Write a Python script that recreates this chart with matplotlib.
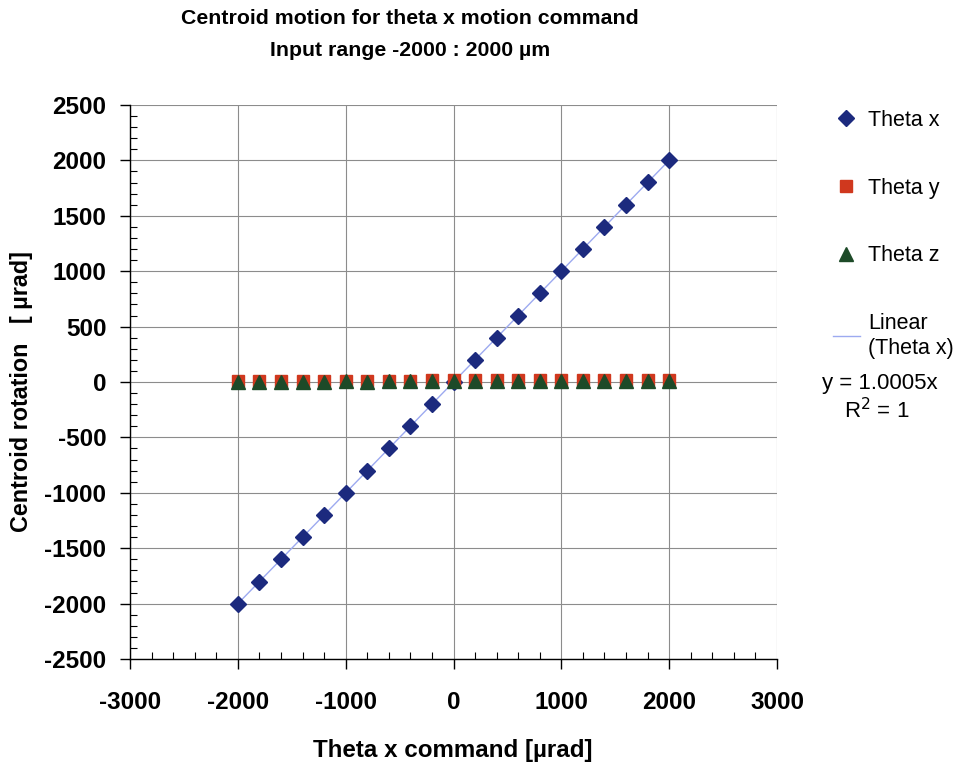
import numpy as np
import matplotlib
matplotlib.use("Agg")
import matplotlib.pyplot as plt
from matplotlib.ticker import MultipleLocator

plt.rcParams['font.family'] = ['Liberation Sans', 'DejaVu Sans']
plt.rcParams['axes.unicode_minus'] = False

# Commanded theta x (µrad)
command = [-2000, -1800, -1600, -1400, -1200, -1000, -800, -600, -400, -200,
           0, 200, 400, 600, 800, 1000, 1200, 1400, 1600, 1800, 2000]
# Measured centroid rotation (µrad)
theta_x = [-2001, -1801, -1601, -1401, -1201, -1000, -800, -600, -400, -200,
           0, 200, 400, 600, 800, 1000, 1201, 1401, 1601, 1801, 2001]
theta_y = [12, 12, 12, 12, 12, 13, 13, 13, 13, 14,
           14, 14, 15, 15, 16, 16, 16, 17, 17, 18, 18]
theta_z = [4, 4, 4, 4, 4, 5, 4, 5, 5, 5,
           6, 6, 6, 6, 6, 7, 7, 7, 8, 8, 8]

cmd = np.array(command, float)
tx = np.array(theta_x, float)
slope = np.sum(cmd * tx) / np.sum(cmd * cmd)

fig = plt.figure(figsize=(9.59, 7.70), dpi=100)
ax = fig.add_axes([130 / 959, 1 - 659 / 770, (777 - 130) / 959, (659 - 105) / 770])

ax.plot(cmd, slope * cmd, color='#9DAAF0', lw=1.0, zorder=2, label='Linear\n(Theta x)')
ax.plot(command, theta_x, 'D', color='#1C2A7E', ms=8.5, zorder=3, label='Theta x')
ax.plot(command, theta_y, 's', color='#D0381E', ms=8.5, zorder=4, label='Theta y')
ax.plot(command, theta_z, '^', color='#1D4A28', ms=9.5, zorder=5, label='Theta z')

ax.set_xlim(-3000, 3000)
ax.set_ylim(-2500, 2500)
ax.xaxis.set_major_locator(MultipleLocator(1000))
ax.xaxis.set_minor_locator(MultipleLocator(200))
ax.yaxis.set_major_locator(MultipleLocator(500))
ax.yaxis.set_minor_locator(MultipleLocator(100))
ax.grid(True, which='major', color='#8C8C8C', lw=0.8)
ax.set_axisbelow(True)

for s in ('top', 'right'):
    ax.spines[s].set_visible(False)
for s in ('left', 'bottom'):
    ax.spines[s].set_color('black')
    ax.spines[s].set_linewidth(1.0)

ax.tick_params(which='major', direction='out', length=7, width=1, labelsize=17.5)
ax.tick_params(which='minor', direction='in', length=5, width=0.8)
ax.tick_params(axis='y', pad=10)
ax.tick_params(axis='x', pad=16)
for lbl in ax.get_xticklabels() + ax.get_yticklabels():
    lbl.set_fontweight('bold')

fig.text(453 / 959, 1 - 750 / 770, 'Theta x command [\u00b5rad]', fontsize=17.4,
         fontweight='bold', ha='center', va='center')
fig.text(22 / 959, 1 - 392 / 770, 'Centroid rotation   [ \u00b5rad]', rotation=90,
         fontsize=16.8, fontweight='bold', ha='center', va='center')

fig.text(410 / 959, 1 - 19 / 770, 'Centroid motion for theta x motion command',
         fontsize=15.3, fontweight='bold', ha='center', va='center')
fig.text(410 / 959, 1 - 50 / 770, 'Input range -2000 : 2000 \u00b5m',
         fontsize=15.3, fontweight='bold', ha='center', va='center')

handles, labels = ax.get_legend_handles_labels()
order = [1, 2, 3, 0]
fig.legend([handles[i] for i in order], [labels[i] for i in order],
           loc='upper left', bbox_to_anchor=(824 / 959, 1 - 101 / 770),
           frameon=False, fontsize=15.5, labelspacing=2.18, handlelength=1.25,
           handletextpad=0.4, borderaxespad=0)

fig.text(880 / 959, 1 - 384 / 770, 'y = %.4fx' % slope, fontsize=16, ha='center', va='center')
fig.text(877 / 959, 1 - 411 / 770, 'R$^2$ = 1', fontsize=16, ha='center', va='center')

fig.savefig('out.png', dpi=100)
